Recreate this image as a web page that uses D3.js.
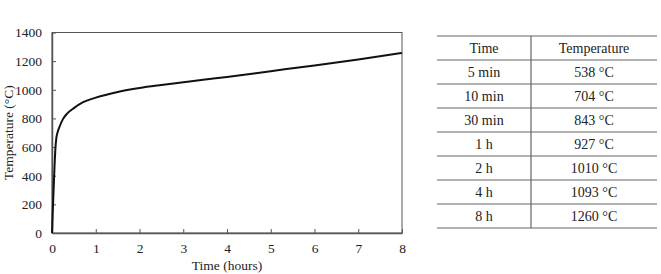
<!DOCTYPE html>
<html>
<head>
<meta charset="utf-8">
<script src="https://cdn.jsdelivr.net/npm/d3@7"></script>
<style>
  html, body { margin: 0; padding: 0; background: #fff; }
  svg { display: block; }
  text { font-family: "Liberation Serif", "Times New Roman", serif; fill: #222; }
</style>
</head>
<body>
<svg id="chart" width="661" height="274"></svg>
<script>
// Curve (time in hours, temperature in °C)
const hours = [0, 0.02, 0.04, 0.06, 0.08, 0.1, 0.125, 0.17, 0.25, 0.35, 0.5, 0.7, 1, 1.5, 2, 2.5, 3, 3.5, 4, 5, 6, 7, 8];
const temps = [0, 170, 330, 480, 600, 665, 700, 740, 795, 835, 872, 912, 945, 985, 1013, 1034, 1053, 1072, 1090, 1130, 1170, 1212, 1257];
const xTicks = [0, 1, 2, 3, 4, 5, 6, 7, 8];
const yTicks = [0, 200, 400, 600, 800, 1000, 1200, 1400];
const tableHeader = ["Time", "Temperature"];
const tableTimes = ["5 min", "10 min", "30 min", "1 h", "2 h", "4 h", "8 h"];
const tableTemps = ["538 °C", "704 °C", "843 °C", "927 °C", "1010 °C", "1093 °C", "1260 °C"];

const FONT = "'Liberation Serif', 'Times New Roman', serif";
const svg = d3.select("#chart");
const plot = { left: 52, right: 402, top: 32.5, bottom: 233 };

const x = d3.scaleLinear().domain([0, 8]).range([plot.left, plot.right]);
const y = d3.scaleLinear().domain([0, 1400]).range([plot.bottom, plot.top]);

const axisColor = "#555";

// Frame (top and right)
svg.append("rect")
  .attr("x", plot.left).attr("y", plot.top)
  .attr("width", plot.right - plot.left).attr("height", plot.bottom - plot.top)
  .attr("fill", "none").attr("stroke", axisColor).attr("stroke-width", 1);

// X axis
const gx = svg.append("g").attr("transform", `translate(0,${plot.bottom})`)
  .call(d3.axisBottom(x).tickValues(xTicks).tickFormat(d3.format("d")).tickSizeInner(-4).tickSizeOuter(0).tickPadding(10));
gx.attr("font-family", FONT);
gx.select(".domain").attr("stroke", axisColor).attr("stroke-width", 1.5);
gx.selectAll(".tick line").attr("stroke", axisColor);
gx.selectAll(".tick text").style("font-size", "13.5px").style("font-family", FONT).attr("fill", "#222");

// Y axis
const gy = svg.append("g").attr("transform", `translate(${plot.left},0)`)
  .call(d3.axisLeft(y).tickValues(yTicks).tickFormat(d3.format("d")).tickSizeInner(-4).tickSizeOuter(0).tickPadding(10));
gy.attr("font-family", FONT);
gy.select(".domain").attr("stroke", axisColor).attr("stroke-width", 1.5);
gy.selectAll(".tick line").attr("stroke", axisColor);
gy.selectAll(".tick text").style("font-size", "13.5px").style("font-family", FONT).attr("fill", "#222");

// Axis titles
svg.append("text")
  .attr("x", (plot.left + plot.right) / 2).attr("y", 270)
  .attr("text-anchor", "middle").style("font-size", "13.5px").style("font-family", FONT)
  .text("Time (hours)");
svg.append("text")
  .attr("transform", `translate(13,${(plot.top + plot.bottom) / 2}) rotate(-90)`)
  .attr("text-anchor", "middle").style("font-size", "13.5px").style("font-family", FONT)
  .text("Temperature (°C)");

// Curve
const pts = hours.map((h, i) => [h, temps[i]]);
svg.append("path")
  .datum(pts)
  .attr("fill", "none").attr("stroke", "#111").attr("stroke-width", 2)
  .attr("d", d3.line().x(d => x(d[0])).y(d => y(d[1])).curve(d3.curveMonotoneX));

// Table
const tbl = { left: 437, right: 657, mid: 531, top: 36, rowH: 24 };
const rows = [tableHeader].concat(tableTimes.map((t, i) => [t, tableTemps[i]]));
const rowScale = d3.scaleBand().domain(d3.range(rows.length))
  .range([tbl.top, tbl.top + tbl.rowH * rows.length]).padding(0);
const tg = svg.append("g");
const lineColor = "#666";
d3.range(rows.length + 1).forEach(i => {
  const yy = tbl.top + i * rowScale.bandwidth();
  tg.append("line").attr("x1", tbl.left).attr("x2", tbl.right)
    .attr("y1", yy).attr("y2", yy)
    .attr("stroke", lineColor).attr("stroke-width", 1.2);
});
tg.append("line").attr("x1", tbl.mid).attr("x2", tbl.mid)
  .attr("y1", tbl.top).attr("y2", tbl.top + rowScale.bandwidth() * rows.length)
  .attr("stroke", lineColor).attr("stroke-width", 1.2);
rows.forEach((r, i) => {
  const cy = rowScale(i) + rowScale.bandwidth() / 2;
  tg.append("text").attr("x", (tbl.left + tbl.mid) / 2).attr("y", cy)
    .attr("dy", "0.35em").attr("text-anchor", "middle").style("font-size", "14px").style("font-family", FONT).text(r[0]);
  tg.append("text").attr("x", (tbl.mid + tbl.right) / 2).attr("y", cy)
    .attr("dy", "0.35em").attr("text-anchor", "middle").style("font-size", "14px").style("font-family", FONT).text(r[1]);
});
</script>
</body>
</html>
